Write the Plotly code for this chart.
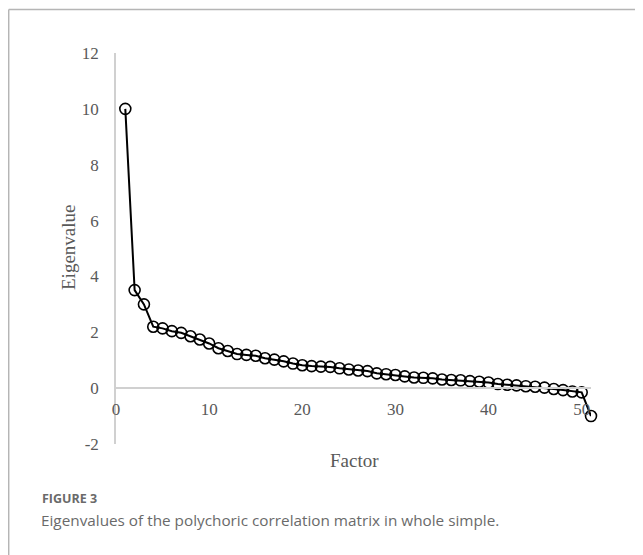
import plotly.graph_objects as go

factors = list(range(1, 52))
eigenvalues = [10.0, 3.51, 3.0, 2.2, 2.14, 2.04, 1.98, 1.86, 1.74, 1.6,
               1.43, 1.33, 1.22, 1.19, 1.16, 1.07, 1.02, 0.96, 0.88, 0.82,
               0.79, 0.77, 0.76, 0.71, 0.67, 0.63, 0.61, 0.53, 0.5, 0.47,
               0.42, 0.38, 0.37, 0.35, 0.31, 0.29, 0.28, 0.25, 0.23, 0.2,
               0.15, 0.12, 0.1, 0.07, 0.05, 0.02, -0.03, -0.07, -0.12, -0.15,
               -1.0]
x_ticks = [0, 10, 20, 30, 40, 50]
y_ticks = [-2, 0, 2, 4, 6, 8, 10, 12]
y_tick_labels = ["-2", "0", "2", "4", "6", "8", "10", "12"]
caption_label = "FIGURE 3"
caption_text = "Eigenvalues of the polychoric correlation matrix in whole simple."

# page has an 8px body margin
OFF = 8
W, H = 643 - OFF, 555 - OFF
L, T = 116 - OFF, 53 - OFF
R = W - (591 - OFF)
B = H - (444 - OFF)
pw, ph = W - L - R, H - T - B

def px(xp):  # page x -> paper
    return (xp - OFF - L) / pw

def py(yp):  # page y -> paper
    return (H - B - (yp - OFF)) / ph

fig = go.Figure()
fig.add_trace(go.Scatter(
    x=factors, y=eigenvalues, mode="lines+markers",
    line=dict(color="black", width=2),
    marker=dict(symbol="circle-open", size=11, color="black",
                line=dict(color="black", width=1.6)),
    showlegend=False, cliponaxis=False,
))

serif = "Liberation Serif, Times New Roman, serif"
tick_font = dict(family=serif, size=17, color="#595959")
sans = "Open Sans, sans-serif"

fig.update_layout(
    width=W, height=H,
    margin=dict(l=L, r=R, t=T, b=B),
    paper_bgcolor="white", plot_bgcolor="white",
    xaxis=dict(range=[0, 51], tickvals=x_ticks, showgrid=False, zeroline=False,
               showline=True, linecolor="#d0d0d0", linewidth=1.5,
               anchor="free", position=2 / 14, ticks="", tickfont=tick_font,
               ticklabelstandoff=6),
    yaxis=dict(range=[-2, 12], tickvals=y_ticks, ticktext=y_tick_labels,
               showgrid=False, zeroline=False,
               showline=True, linecolor="#d0d0d0", linewidth=1.5,
               ticks="", tickfont=tick_font, ticklabelstandoff=12),
    annotations=[
        dict(text="Eigenvalue", x=px(68), y=py(248), xref="paper", yref="paper",
             xanchor="center", yanchor="middle", textangle=-90, showarrow=False,
             font=dict(family=serif, size=19, color="#595959")),
        dict(text="Factor", x=px(354), y=py(460), xref="paper", yref="paper",
             xanchor="center", yanchor="middle",
             showarrow=False, font=dict(family=serif, size=19, color="#595959")),
        dict(text="<b>" + caption_label + "</b>", x=px(40), y=py(498),
             xref="paper", yref="paper", xanchor="left", yanchor="middle",
             showarrow=False,
             font=dict(family=sans, size=12.5, color="#6a6a6a")),
        dict(text=caption_text, x=px(39), y=py(520),
             xref="paper", yref="paper", xanchor="left", yanchor="middle",
             showarrow=False,
             font=dict(family=sans, size=15.3, color="#6a6a6a")),
    ],
    shapes=[
        dict(type="line", xref="paper", yref="paper", x0=px(8.7), x1=px(660),
             y0=py(9.5), y1=py(9.5), line=dict(color="#b5b5b5", width=1.5)),
        dict(type="line", xref="paper", yref="paper", x0=px(8.7), x1=px(8.7),
             y0=py(9.5), y1=py(570), line=dict(color="#b5b5b5", width=1.5)),
    ],
)

fig.write_html("out.html")
